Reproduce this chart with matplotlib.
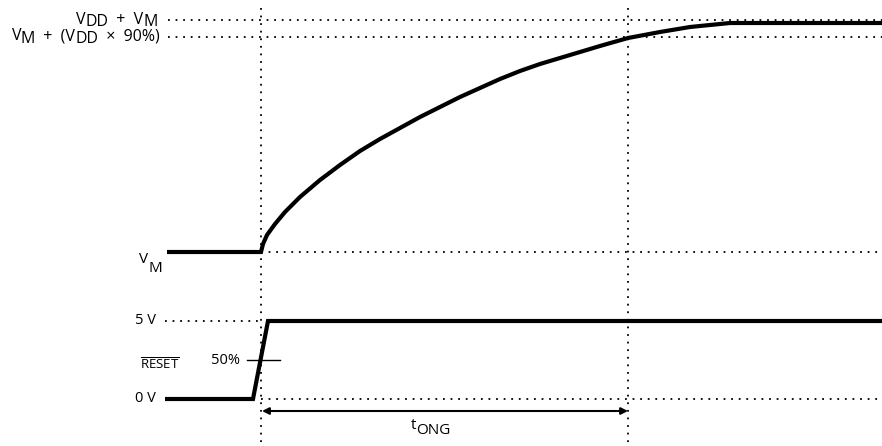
import matplotlib.pyplot as plt

plt.rcParams['font.family'] = ['Open Sans', 'DejaVu Sans']
plt.rcParams['mathtext.fontset'] = 'custom'
plt.rcParams['mathtext.rm'] = 'Open Sans'

# diagram coordinates (time along x, level along y, y grows downward)
t_on = 261
t_ong_end = 628
t_end = 882

y_vddvm = 20
y_vdd90 = 37
y_vm = 252
y_5v = 321
y_0v = 399
y_arrow = 411

# charge-pump output curve
curve_t = [261, 263, 267, 275, 285, 300, 320, 340, 360, 380, 400, 420, 440, 460,
           480, 500, 520, 540, 560, 580, 600, 628, 660, 690, 710, 730, 882]
curve_v = [252, 244, 235, 224, 212, 197, 180, 165, 151, 139, 128, 117, 107, 97,
           88, 79, 71, 64, 58, 52, 46, 38, 32, 27, 25, 23, 23]

# RESET waveform
reset_t = [165, 253, 268, 882]
reset_v = [399, 399, 321, 321]

fig = plt.figure(figsize=(8.82, 4.46), dpi=100)
ax = fig.add_axes([0, 0, 1, 1])
ax.set_xlim(0, 882)
ax.set_ylim(446, 0)
ax.axis('off')
renderer = fig.canvas.get_renderer()

FS = 10.5


def rich_label(x, baseline, pieces, ha='right', drop=3.5, size=FS, sub_size=FS):
    """Draw text made of (string, is_subscript) pieces, placed from x."""
    texts = []
    widths = []
    for s, sub in pieces:
        t = ax.text(0, baseline + (drop if sub else 0), s,
                    fontsize=sub_size if sub else size, va='baseline', ha='left')
        widths.append(t.get_window_extent(renderer).width)
        texts.append(t)
    total = sum(widths)
    pos = x - total if ha == 'right' else x
    for t, w in zip(texts, widths):
        t.set_x(pos)
        pos += w


dot = dict(color='black', lw=1.3, linestyle=(0, (1, 3.2)))
thick = dict(color='black', lw=3, solid_joinstyle='miter', solid_capstyle='butt')

# guide lines
ax.plot([t_on, t_on], [8, 446], **dot)
ax.plot([t_ong_end, t_ong_end], [8, 446], **dot)
ax.plot([168, t_end], [y_vddvm, y_vddvm], **dot)
ax.plot([168, t_end], [y_vdd90, y_vdd90], **dot)
ax.plot([t_on, t_end], [y_vm, y_vm], **dot)
ax.plot([165, t_on], [y_5v, y_5v], **dot)
ax.plot([t_on, t_end], [y_0v, y_0v], **dot)

# waveforms
ax.plot([167] + curve_t, [y_vm] + curve_v, **thick)
ax.plot(reset_t, reset_v, **thick)
ax.plot([247, 280], [360, 360], color='black', lw=1)

# tONG arrow
ax.annotate('', xy=(t_on + 1, y_arrow), xytext=(t_ong_end, y_arrow),
            arrowprops=dict(arrowstyle='<|-|>', color='black', lw=1.5,
                            mutation_scale=10, shrinkA=0, shrinkB=0))

rich_label(158, 23.5, [('V', False), ('DD', True), ('  +  V', False), ('M', True)],
           drop=2.5, size=11.5, sub_size=11.5)
rich_label(160, 40.5, [('V', False), ('M', True), ('  +  (V', False), ('DD', True),
                       ('  ×  90%)', False)], drop=2.5, size=11.5, sub_size=11.5)
rich_label(139, 263, [('V', False), ('M', True)], ha='left', drop=9, size=11, sub_size=11)
rich_label(411, 429, [('t', False), ('ONG', True)], ha='left', drop=5, size=11, sub_size=11)

ax.text(156, y_5v, '5 V', ha='right', va='center', fontsize=FS)
ax.text(156, y_0v, '0 V', ha='right', va='center', fontsize=FS)
ax.text(240, 360, '50%', ha='right', va='center', fontsize=FS)
ax.text(160, 365, r'$\overline{\mathrm{RESET}}$', ha='center', va='center', fontsize=FS - 1)

fig.savefig('out.png', dpi=100)
